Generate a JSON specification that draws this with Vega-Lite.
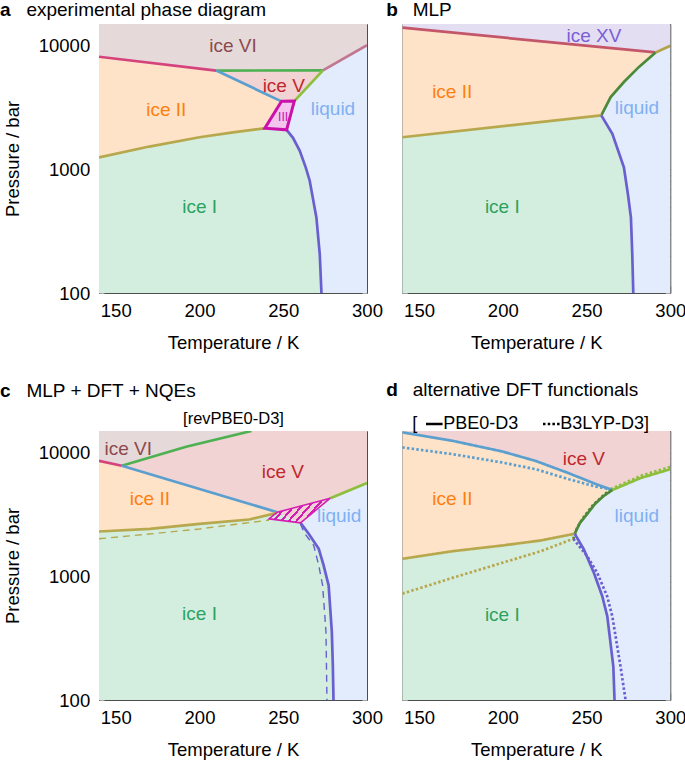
{
"$schema":"https://vega.github.io/schema/vega-lite/v6.json",
"padding":0,
"config":{
 "font":"Liberation Sans",
 "view":{"stroke":null},
 "axis":{"labelFont":"Liberation Sans","titleFont":"Liberation Sans","labelFontSize":18.5,"titleFontSize":18.5,"titleFontWeight":"normal","labelColor":"black","titleColor":"black","tickColor":"#a6a6a6","tickWidth":1,"domain":true,"domainColor":"#4d4d4d","domainWidth":1,"grid":false,"zindex":1},
 "title":{"fontSize":19,"subtitleFontSize":19,"font":"Liberation Sans","subtitleFont":"Liberation Sans","fontWeight":"bold","subtitleFontWeight":"normal","color":"black","subtitleColor":"black","anchor":"start","frame":"group","subtitlePadding":-19,"offset":4},
 "text":{"font":"Liberation Sans"}
},
"spacing":28,
"resolve":{"scale":{"strokeDash":"independent"},"legend":{"strokeDash":"independent"}},
"vconcat":[
{"spacing":3.3,"hconcat":[
{
"width":268,"height":269,
"title":{"text":"a","subtitle":"\u200b\u00a0\u00a0\u00a0\u00a0\u00a0experimental phase diagram","dx":-99},
"data":{"values":[
{"g":"r","id":"VI","i":0,"T":140,"P":15000},{"g":"r","id":"VI","i":1,"T":300,"P":15000},{"g":"r","id":"VI","i":2,"T":300,"P":10100},{"g":"r","id":"VI","i":3,"T":273.7,"P":6330},{"g":"r","id":"VI","i":4,"T":210,"P":6300},{"g":"r","id":"VI","i":5,"T":140,"P":8150},
{"g":"r","id":"V","i":0,"T":210,"P":6300},{"g":"r","id":"V","i":1,"T":273.7,"P":6330},{"g":"r","id":"V","i":2,"T":256.6,"P":3570},{"g":"r","id":"V","i":3,"T":248.9,"P":3550},
{"g":"r","id":"II","i":0,"T":140,"P":8150},{"g":"r","id":"II","i":1,"T":210,"P":6300},{"g":"r","id":"II","i":2,"T":248.9,"P":3550},{"g":"r","id":"II","i":3,"T":239,"P":2150},{"g":"r","id":"II","i":4,"T":220,"P":1990},{"g":"r","id":"II","i":5,"T":200,"P":1820},{"g":"r","id":"II","i":6,"T":170,"P":1530},{"g":"r","id":"II","i":7,"T":140,"P":1252},
{"g":"r","id":"III","i":0,"T":248.9,"P":3550},{"g":"r","id":"III","i":1,"T":256.6,"P":3570},{"g":"r","id":"III","i":2,"T":252,"P":2090},{"g":"r","id":"III","i":3,"T":239,"P":2150},
{"g":"r","id":"I","i":0,"T":140,"P":1252},{"g":"r","id":"I","i":1,"T":170,"P":1530},{"g":"r","id":"I","i":2,"T":200,"P":1820},{"g":"r","id":"I","i":3,"T":220,"P":1990},{"g":"r","id":"I","i":4,"T":239,"P":2150},{"g":"r","id":"I","i":5,"T":252,"P":2090},{"g":"r","id":"I","i":6,"T":255.8,"P":1800},{"g":"r","id":"I","i":7,"T":259.8,"P":1420},{"g":"r","id":"I","i":8,"T":263.4,"P":1038},{"g":"r","id":"I","i":9,"T":265.8,"P":810},{"g":"r","id":"I","i":10,"T":269.8,"P":407},{"g":"r","id":"I","i":11,"T":271.8,"P":205},{"g":"r","id":"I","i":12,"T":272.8,"P":100},{"g":"r","id":"I","i":13,"T":140,"P":100},
{"g":"r","id":"L","i":0,"T":300,"P":10100},{"g":"r","id":"L","i":1,"T":273.7,"P":6330},{"g":"r","id":"L","i":2,"T":256.6,"P":3570},{"g":"r","id":"L","i":3,"T":252,"P":2090},{"g":"r","id":"L","i":4,"T":255.8,"P":1800},{"g":"r","id":"L","i":5,"T":259.8,"P":1420},{"g":"r","id":"L","i":6,"T":263.4,"P":1038},{"g":"r","id":"L","i":7,"T":265.8,"P":810},{"g":"r","id":"L","i":8,"T":269.8,"P":407},{"g":"r","id":"L","i":9,"T":271.8,"P":205},{"g":"r","id":"L","i":10,"T":272.8,"P":100},{"g":"r","id":"L","i":11,"T":300,"P":100},
{"g":"l","id":"VI-II","i":0,"T":140,"P":8150},{"g":"l","id":"VI-II","i":1,"T":210,"P":6300},
{"g":"l","id":"V-VI","i":0,"T":210,"P":6300},{"g":"l","id":"V-VI","i":1,"T":273.7,"P":6330},
{"g":"l","id":"VI-L","i":0,"T":273.7,"P":6330},{"g":"l","id":"VI-L","i":1,"T":300,"P":10100},
{"g":"l","id":"II-V","i":0,"T":210,"P":6300},{"g":"l","id":"II-V","i":1,"T":248.9,"P":3550},
{"g":"l","id":"V-L","i":0,"T":256.6,"P":3570},{"g":"l","id":"V-L","i":1,"T":273.7,"P":6330},
{"g":"l","id":"I-II","i":0,"T":140,"P":1252},{"g":"l","id":"I-II","i":1,"T":170,"P":1530},{"g":"l","id":"I-II","i":2,"T":200,"P":1820},{"g":"l","id":"I-II","i":3,"T":220,"P":1990},{"g":"l","id":"I-II","i":4,"T":239,"P":2150},
{"g":"l","id":"I-L","i":0,"T":252,"P":2090},{"g":"l","id":"I-L","i":1,"T":255.8,"P":1800},{"g":"l","id":"I-L","i":2,"T":259.8,"P":1420},{"g":"l","id":"I-L","i":3,"T":263.4,"P":1038},{"g":"l","id":"I-L","i":4,"T":265.8,"P":810},{"g":"l","id":"I-L","i":5,"T":269.8,"P":407},{"g":"l","id":"I-L","i":6,"T":271.8,"P":205},{"g":"l","id":"I-L","i":7,"T":272.8,"P":100},
{"g":"o","id":"III","i":0,"T":248.9,"P":3550},{"g":"o","id":"III","i":1,"T":256.6,"P":3570},{"g":"o","id":"III","i":2,"T":252,"P":2090},{"g":"o","id":"III","i":3,"T":239,"P":2150},
{"g":"t","id":"VI","T":220,"P":9950,"text":"ice VI"},{"g":"t","id":"V","T":250.3,"P":4700,"text":"ice V"},{"g":"t","id":"II","T":180.2,"P":3040,"text":"ice II"},{"g":"t","id":"L","T":279.7,"P":3100,"text":"liquid"},{"g":"t","id":"I","T":200.1,"P":498,"text":"ice I"},
{"g":"t2","id":"III","T":249.9,"P":2650,"text":"III"}
]},
"encoding":{"x":{"field":"T","type":"quantitative","scale":{"domain":[140,300],"nice":false,"zero":false},"axis":null},"y":{"field":"P","type":"quantitative","scale":{"type":"log","domain":[100,15000],"nice":false},"axis":null}},
"layer":[
{"transform":[{"filter":"datum.g=='r'"}],"mark":{"type":"line","interpolate":"linear-closed","strokeWidth":0,"clip":true},
 "encoding":{
  "x":{"field":"T","type":"quantitative","scale":{"domain":[140,300],"nice":false,"zero":false},"axis":{"orient":"bottom","values":[150,200,250,300],"format":"d","tickSize":-7,"labelPadding":15.4,"labelFlush":false,"title":"Temperature / K","titlePadding":13.8}},
  "y":{"field":"P","type":"quantitative","scale":{"type":"log","domain":[100,15000],"nice":false},"axis":{"orient":"left","values":[100,200,300,400,500,600,700,800,900,1000,2000,3000,4000,5000,6000,7000,8000,9000,10000],"tickSize":-5,"labelPadding":14.3,"labelOverlap":false,"labelExpr":"(datum.value==100||datum.value==1000||datum.value==10000)?format(datum.value,'d'):''","title":"Pressure / bar","titlePadding":15.3}},
  "fill":{"field":"id","type":"nominal","scale":{"domain":["VI","V","II","I","L","III","XV"],"range":["#e6d9da","#f1d3d3","#fee3c8","#d3eedf","#e3ecfc","#f2c4ee","#e4def3"]},"legend":null},
  "order":{"field":"i","type":"quantitative"}}},
{"transform":[{"filter":"datum.g=='l'"}],"mark":{"type":"line","strokeWidth":2.7,"clip":true},
 "encoding":{
  "x":{"field":"T","type":"quantitative","scale":{"domain":[140,300],"nice":false,"zero":false},"axis":{"orient":"top","values":[150,200,250],"tickSize":-7,"labels":false,"title":null}},
  "y":{"field":"P","type":"quantitative","scale":{"type":"log","domain":[100,15000],"nice":false},"axis":{"orient":"right","values":[100,200,300,400,500,600,700,800,900,1000,2000,3000,4000,5000,6000,7000,8000,9000,10000],"tickSize":-5,"labels":false,"title":null}},
  "stroke":{"field":"id","type":"nominal","scale":{"domain":["VI-II","V-VI","VI-L","II-V","III","I-II","I-L","V-L","XV-II","XV-L","II-L"],"range":["#d5437c","#4db152","#c27790","#5a9fcf","#cc11aa","#b7a84e","#6a5fd0","#8dbf3d","#c4566a","#b4a348","#4c8a3b"]},"legend":null},
  "order":{"field":"i","type":"quantitative"}}},
{"transform":[{"filter":"datum.g=='o'"}],"mark":{"type":"line","interpolate":"linear-closed","strokeWidth":3,"clip":true},
 "encoding":{
  "stroke":{"field":"id","type":"nominal","scale":{"domain":["VI-II","V-VI","VI-L","II-V","III","I-II","I-L","V-L","XV-II","XV-L","II-L"],"range":["#d5437c","#4db152","#c27790","#5a9fcf","#cc11aa","#b7a84e","#6a5fd0","#8dbf3d","#c4566a","#b4a348","#4c8a3b"]},"legend":null},
  "order":{"field":"i","type":"quantitative"}}},
{"transform":[{"filter":"datum.g=='t'"}],"mark":{"type":"text","fontSize":19},
 "encoding":{"text":{"field":"text","type":"nominal"},"color":{"field":"id","type":"nominal","scale":{"domain":["VI","V","II","I","L","III","XV"],"range":["#8c4a4d","#c0272d","#ff7f0e","#2ca25f","#7fb0f4","#cc11aa","#7b5ed6"]},"legend":null}}},
{"transform":[{"filter":"datum.g=='t2'"}],"mark":{"type":"text","fontSize":12},
 "encoding":{"text":{"field":"text","type":"nominal"},"color":{"field":"id","type":"nominal","scale":{"domain":["VI","V","II","I","L","III","XV"],"range":["#8c4a4d","#c0272d","#ff7f0e","#2ca25f","#7fb0f4","#cc11aa","#7b5ed6"]},"legend":null}}}
],
"resolve":{"axis":{"x":"independent","y":"independent"}}
},
{
"width":268,"height":269,
"title":{"text":"b","subtitle":"\u200b\u00a0\u00a0\u00a0\u00a0\u00a0MLP","dx":-16},
"data":{"values":[
{"g":"r","id":"XV","i":0,"T":140,"P":15000},{"g":"r","id":"XV","i":1,"T":300,"P":15000},{"g":"r","id":"XV","i":2,"T":300,"P":10000},{"g":"r","id":"XV","i":3,"T":291.2,"P":8830},{"g":"r","id":"XV","i":4,"T":140,"P":14000},
{"g":"r","id":"II","i":0,"T":140,"P":14000},{"g":"r","id":"II","i":1,"T":291.2,"P":8830},{"g":"r","id":"II","i":2,"T":281.3,"P":6745},{"g":"r","id":"II","i":3,"T":272.3,"P":5090},{"g":"r","id":"II","i":4,"T":264.4,"P":3845},{"g":"r","id":"II","i":5,"T":258.8,"P":2735},{"g":"r","id":"II","i":6,"T":140,"P":1820},
{"g":"r","id":"I","i":0,"T":140,"P":1820},{"g":"r","id":"I","i":1,"T":258.8,"P":2735},{"g":"r","id":"I","i":2,"T":265.4,"P":1940},{"g":"r","id":"I","i":3,"T":272.3,"P":1038},{"g":"r","id":"I","i":4,"T":274.7,"P":630},{"g":"r","id":"I","i":5,"T":276.5,"P":407},{"g":"r","id":"I","i":6,"T":277.3,"P":205},{"g":"r","id":"I","i":7,"T":277.9,"P":100},{"g":"r","id":"I","i":8,"T":140,"P":100},
{"g":"r","id":"L","i":0,"T":300,"P":10000},{"g":"r","id":"L","i":1,"T":291.2,"P":8830},{"g":"r","id":"L","i":2,"T":281.3,"P":6745},{"g":"r","id":"L","i":3,"T":272.3,"P":5090},{"g":"r","id":"L","i":4,"T":264.4,"P":3845},{"g":"r","id":"L","i":5,"T":258.8,"P":2735},{"g":"r","id":"L","i":6,"T":265.4,"P":1940},{"g":"r","id":"L","i":7,"T":272.3,"P":1038},{"g":"r","id":"L","i":8,"T":274.7,"P":630},{"g":"r","id":"L","i":9,"T":276.5,"P":407},{"g":"r","id":"L","i":10,"T":277.3,"P":205},{"g":"r","id":"L","i":11,"T":277.9,"P":100},{"g":"r","id":"L","i":12,"T":300,"P":100},
{"g":"l","id":"XV-II","i":0,"T":140,"P":14000},{"g":"l","id":"XV-II","i":1,"T":291.2,"P":8830},
{"g":"l","id":"XV-L","i":0,"T":291.2,"P":8830},{"g":"l","id":"XV-L","i":1,"T":300,"P":10000},
{"g":"l","id":"II-L","i":0,"T":291.2,"P":8830},{"g":"l","id":"II-L","i":1,"T":281.3,"P":6745},{"g":"l","id":"II-L","i":2,"T":272.3,"P":5090},{"g":"l","id":"II-L","i":3,"T":264.4,"P":3845},{"g":"l","id":"II-L","i":4,"T":258.8,"P":2735},
{"g":"l","id":"I-II","i":0,"T":140,"P":1820},{"g":"l","id":"I-II","i":1,"T":258.8,"P":2735},
{"g":"l","id":"I-L","i":0,"T":258.8,"P":2735},{"g":"l","id":"I-L","i":1,"T":265.4,"P":1940},{"g":"l","id":"I-L","i":2,"T":272.3,"P":1038},{"g":"l","id":"I-L","i":3,"T":274.7,"P":630},{"g":"l","id":"I-L","i":4,"T":276.5,"P":407},{"g":"l","id":"I-L","i":5,"T":277.3,"P":205},{"g":"l","id":"I-L","i":6,"T":277.9,"P":100},
{"g":"t","id":"XV","T":254.4,"P":12000,"text":"ice XV"},{"g":"t","id":"II","T":169.8,"P":4230,"text":"ice II"},{"g":"t","id":"L","T":280.1,"P":3130,"text":"liquid"},{"g":"t","id":"I","T":199.7,"P":498,"text":"ice I"}
]},
"encoding":{"x":{"field":"T","type":"quantitative","scale":{"domain":[140,300],"nice":false,"zero":false},"axis":null},"y":{"field":"P","type":"quantitative","scale":{"type":"log","domain":[100,15000],"nice":false},"axis":null}},
"layer":[
{"transform":[{"filter":"datum.g=='r'"}],"mark":{"type":"line","interpolate":"linear-closed","strokeWidth":0,"clip":true},
 "encoding":{
  "x":{"field":"T","type":"quantitative","scale":{"domain":[140,300],"nice":false,"zero":false},"axis":{"orient":"bottom","values":[150,200,250,300],"format":"d","tickSize":-7,"labelPadding":15.4,"labelFlush":false,"title":"Temperature / K","titlePadding":13.8}},
  "y":{"field":"P","type":"quantitative","scale":{"type":"log","domain":[100,15000],"nice":false},"axis":{"orient":"left","values":[100,200,300,400,500,600,700,800,900,1000,2000,3000,4000,5000,6000,7000,8000,9000,10000],"tickSize":-5,"labels":false,"title":null}},
  "fill":{"field":"id","type":"nominal","scale":{"domain":["VI","V","II","I","L","III","XV"],"range":["#e6d9da","#f1d3d3","#fee3c8","#d3eedf","#e3ecfc","#f2c4ee","#e4def3"]},"legend":null},
  "order":{"field":"i","type":"quantitative"}}},
{"transform":[{"filter":"datum.g=='l'"}],"mark":{"type":"line","strokeWidth":2.7,"clip":true},
 "encoding":{
  "x":{"field":"T","type":"quantitative","scale":{"domain":[140,300],"nice":false,"zero":false},"axis":{"orient":"top","values":[150,200,250],"tickSize":-7,"labels":false,"title":null}},
  "y":{"field":"P","type":"quantitative","scale":{"type":"log","domain":[100,15000],"nice":false},"axis":{"orient":"right","values":[100,200,300,400,500,600,700,800,900,1000,2000,3000,4000,5000,6000,7000,8000,9000,10000],"tickSize":-5,"labels":false,"title":null}},
  "stroke":{"field":"id","type":"nominal","scale":{"domain":["VI-II","V-VI","VI-L","II-V","III","I-II","I-L","V-L","XV-II","XV-L","II-L"],"range":["#d5437c","#4db152","#c27790","#5a9fcf","#cc11aa","#b7a84e","#6a5fd0","#8dbf3d","#c4566a","#b4a348","#4c8a3b"]},"legend":null},
  "order":{"field":"i","type":"quantitative"}}},
{"transform":[{"filter":"datum.g=='t'"}],"mark":{"type":"text","fontSize":19},
 "encoding":{"text":{"field":"text","type":"nominal"},"color":{"field":"id","type":"nominal","scale":{"domain":["VI","V","II","I","L","III","XV"],"range":["#8c4a4d","#c0272d","#ff7f0e","#2ca25f","#7fb0f4","#cc11aa","#7b5ed6"]},"legend":null}}}
],
"resolve":{"axis":{"x":"independent","y":"independent"}}
}
]},
{"spacing":3.3,"resolve":{"scale":{"strokeDash":"independent"},"legend":{"strokeDash":"independent"}},"hconcat":[
{
"width":268,"height":269,
"title":{"text":"c","subtitle":"\u200b\u00a0\u00a0\u00a0\u00a0\u00a0MLP + DFT + NQEs","dx":-99,"offset":9},
"data":{"values":[
{"g":"r","id":"VI","i":0,"T":140,"P":15000},{"g":"r","id":"VI","i":1,"T":231,"P":15000},{"g":"r","id":"VI","i":2,"T":192,"P":11200},{"g":"r","id":"VI","i":3,"T":153.6,"P":7850},{"g":"r","id":"VI","i":4,"T":140,"P":8610},
{"g":"r","id":"V","i":0,"T":153.6,"P":7850},{"g":"r","id":"V","i":1,"T":192,"P":11200},{"g":"r","id":"V","i":2,"T":231,"P":15000},{"g":"r","id":"V","i":3,"T":300,"P":15000},{"g":"r","id":"V","i":4,"T":300,"P":5700},{"g":"r","id":"V","i":5,"T":278.1,"P":4290},{"g":"r","id":"V","i":6,"T":260.3,"P":2710},{"g":"r","id":"V","i":7,"T":241.5,"P":2920},{"g":"r","id":"V","i":8,"T":246.4,"P":3305},
{"g":"r","id":"II","i":0,"T":140,"P":8610},{"g":"r","id":"II","i":1,"T":153.6,"P":7850},{"g":"r","id":"II","i":2,"T":246.4,"P":3305},{"g":"r","id":"II","i":3,"T":246.4,"P":3265},{"g":"r","id":"II","i":4,"T":229.7,"P":2885},{"g":"r","id":"II","i":5,"T":200,"P":2660},{"g":"r","id":"II","i":6,"T":170.4,"P":2425},{"g":"r","id":"II","i":7,"T":140,"P":2307},
{"g":"r","id":"I","i":0,"T":140,"P":2307},{"g":"r","id":"I","i":1,"T":170.4,"P":2425},{"g":"r","id":"I","i":2,"T":200,"P":2660},{"g":"r","id":"I","i":3,"T":229.7,"P":2885},{"g":"r","id":"I","i":4,"T":246.4,"P":3265},{"g":"r","id":"I","i":5,"T":260.3,"P":2710},{"g":"r","id":"I","i":6,"T":265.2,"P":2210},{"g":"r","id":"I","i":7,"T":271.2,"P":1671},{"g":"r","id":"I","i":8,"T":274.1,"P":1228},{"g":"r","id":"I","i":9,"T":277.1,"P":845},{"g":"r","id":"I","i":10,"T":279,"P":357},{"g":"r","id":"I","i":11,"T":279.6,"P":191},{"g":"r","id":"I","i":12,"T":280,"P":100},{"g":"r","id":"I","i":13,"T":140,"P":100},
{"g":"r","id":"L","i":0,"T":300,"P":5700},{"g":"r","id":"L","i":1,"T":278.1,"P":4290},{"g":"r","id":"L","i":2,"T":260.3,"P":2710},{"g":"r","id":"L","i":3,"T":265.2,"P":2210},{"g":"r","id":"L","i":4,"T":271.2,"P":1671},{"g":"r","id":"L","i":5,"T":274.1,"P":1228},{"g":"r","id":"L","i":6,"T":277.1,"P":845},{"g":"r","id":"L","i":7,"T":279,"P":357},{"g":"r","id":"L","i":8,"T":279.6,"P":191},{"g":"r","id":"L","i":9,"T":280,"P":100},{"g":"r","id":"L","i":10,"T":300,"P":100},
{"g":"l","id":"VI-II","i":0,"T":140,"P":8610},{"g":"l","id":"VI-II","i":1,"T":153.6,"P":7850},
{"g":"l","id":"V-VI","i":0,"T":153.6,"P":7850},{"g":"l","id":"V-VI","i":1,"T":192,"P":11200},{"g":"l","id":"V-VI","i":2,"T":231,"P":15000},
{"g":"l","id":"II-V","i":0,"T":153.6,"P":7850},{"g":"l","id":"II-V","i":1,"T":246.4,"P":3305},
{"g":"l","id":"V-L","i":0,"T":278.1,"P":4290},{"g":"l","id":"V-L","i":1,"T":300,"P":5700},
{"g":"l","id":"I-II","i":0,"T":140,"P":2307},{"g":"l","id":"I-II","i":1,"T":170.4,"P":2425},{"g":"l","id":"I-II","i":2,"T":200,"P":2660},{"g":"l","id":"I-II","i":3,"T":229.7,"P":2885},{"g":"l","id":"I-II","i":4,"T":246.4,"P":3265},
{"g":"l","id":"I-L","i":0,"T":260.3,"P":2710},{"g":"l","id":"I-L","i":1,"T":265.2,"P":2210},{"g":"l","id":"I-L","i":2,"T":271.2,"P":1671},{"g":"l","id":"I-L","i":3,"T":274.1,"P":1228},{"g":"l","id":"I-L","i":4,"T":277.1,"P":845},{"g":"l","id":"I-L","i":5,"T":279,"P":357},{"g":"l","id":"I-L","i":6,"T":279.6,"P":191},{"g":"l","id":"I-L","i":7,"T":280,"P":100},
{"g":"dl","id":"I-II","i":0,"T":140,"P":2014},{"g":"dl","id":"I-II","i":1,"T":170,"P":2200},{"g":"dl","id":"I-II","i":2,"T":200,"P":2420},{"g":"dl","id":"I-II","i":3,"T":222,"P":2640},{"g":"dl","id":"I-II","i":4,"T":241.5,"P":2850},
{"g":"dl","id":"I-L","i":0,"T":260.3,"P":2660},{"g":"dl","id":"I-L","i":1,"T":262.5,"P":2250},{"g":"dl","id":"I-L","i":2,"T":268.2,"P":1778},{"g":"dl","id":"I-L","i":3,"T":271.2,"P":1228},{"g":"dl","id":"I-L","i":4,"T":273.5,"P":845},{"g":"dl","id":"I-L","i":5,"T":275.5,"P":357},{"g":"dl","id":"I-L","i":6,"T":276.1,"P":100},
{"g":"h","id":"III","i":0,"T":241.5,"P":2920},{"g":"h","id":"III","i":1,"T":246.4,"P":3305},{"g":"h","id":"III","i":2,"T":278.1,"P":4290},{"g":"h","id":"III","i":3,"T":260.3,"P":2710},
{"g":"t","id":"VI","T":157.5,"P":10700,"text":"ice VI"},{"g":"t","id":"V","T":249.8,"P":6950,"text":"ice V"},{"g":"t","id":"II","T":170.4,"P":4240,"text":"ice II"},{"g":"t","id":"L","T":283.4,"P":3100,"text":"liquid"},{"g":"t","id":"I","T":200,"P":500,"text":"ice I"}
]},
"encoding":{"x":{"field":"T","type":"quantitative","scale":{"domain":[140,300],"nice":false,"zero":false},"axis":null},"y":{"field":"P","type":"quantitative","scale":{"type":"log","domain":[100,15000],"nice":false},"axis":null}},
"layer":[
{"transform":[{"filter":"datum.g=='r'"}],"mark":{"type":"line","interpolate":"linear-closed","strokeWidth":0,"clip":true},
 "encoding":{
  "x":{"field":"T","type":"quantitative","scale":{"domain":[140,300],"nice":false,"zero":false},"axis":{"orient":"bottom","values":[150,200,250,300],"format":"d","tickSize":-7,"labelPadding":15.4,"labelFlush":false,"title":"Temperature / K","titlePadding":13.8}},
  "y":{"field":"P","type":"quantitative","scale":{"type":"log","domain":[100,15000],"nice":false},"axis":{"orient":"left","values":[100,200,300,400,500,600,700,800,900,1000,2000,3000,4000,5000,6000,7000,8000,9000,10000],"tickSize":-5,"labelPadding":14.3,"labelOverlap":false,"labelExpr":"(datum.value==100||datum.value==1000||datum.value==10000)?format(datum.value,'d'):''","title":"Pressure / bar","titlePadding":15.3}},
  "fill":{"field":"id","type":"nominal","scale":{"domain":["VI","V","II","I","L","III","XV"],"range":["#e6d9da","#f1d3d3","#fee3c8","#d3eedf","#e3ecfc","#f2c4ee","#e4def3"]},"legend":null},
  "order":{"field":"i","type":"quantitative"}}},
{"transform":[{"filter":"datum.g=='dl'"}],"mark":{"type":"line","strokeWidth":1.4,"strokeDash":[7,5],"clip":true},
 "encoding":{
  "stroke":{"field":"id","type":"nominal","scale":{"domain":["VI-II","V-VI","VI-L","II-V","III","I-II","I-L","V-L","XV-II","XV-L","II-L"],"range":["#d5437c","#4db152","#c27790","#5a9fcf","#cc11aa","#b7a84e","#6a5fd0","#8dbf3d","#c4566a","#b4a348","#4c8a3b"]},"legend":null},
  "order":{"field":"i","type":"quantitative"}}},
{"transform":[{"filter":"datum.g=='l'"}],"mark":{"type":"line","strokeWidth":2.7,"clip":true},
 "encoding":{
  "x":{"field":"T","type":"quantitative","scale":{"domain":[140,300],"nice":false,"zero":false},"axis":{"orient":"top","values":[150,200,250],"tickSize":-7,"labels":false,"title":"[revPBE0-D3]","titleFontSize":16.5,"titlePadding":4.5}},
  "y":{"field":"P","type":"quantitative","scale":{"type":"log","domain":[100,15000],"nice":false},"axis":{"orient":"right","values":[100,200,300,400,500,600,700,800,900,1000,2000,3000,4000,5000,6000,7000,8000,9000,10000],"tickSize":-5,"labels":false,"title":null}},
  "stroke":{"field":"id","type":"nominal","scale":{"domain":["VI-II","V-VI","VI-L","II-V","III","I-II","I-L","V-L","XV-II","XV-L","II-L"],"range":["#d5437c","#4db152","#c27790","#5a9fcf","#cc11aa","#b7a84e","#6a5fd0","#8dbf3d","#c4566a","#b4a348","#4c8a3b"]},"legend":null},
  "order":{"field":"i","type":"quantitative"}}},
{"transform":[{"filter":"datum.g=='h'"}],"mark":{"type":"line","interpolate":"linear-closed","stroke":"#d41db5","strokeWidth":1.5,"clip":true,
  "fill":{"gradient":"linear","x1":0,"y1":0,"x2":1,"y2":0.35,"stops":[
   {"offset":0,"color":"#d41db5"},{"offset":0.04,"color":"#d41db5"},{"offset":0.04,"color":"rgba(212,29,181,0)"},{"offset":0.111,"color":"rgba(212,29,181,0)"},
   {"offset":0.111,"color":"#d41db5"},{"offset":0.151,"color":"#d41db5"},{"offset":0.151,"color":"rgba(212,29,181,0)"},{"offset":0.222,"color":"rgba(212,29,181,0)"},
   {"offset":0.222,"color":"#d41db5"},{"offset":0.262,"color":"#d41db5"},{"offset":0.262,"color":"rgba(212,29,181,0)"},{"offset":0.333,"color":"rgba(212,29,181,0)"},
   {"offset":0.333,"color":"#d41db5"},{"offset":0.373,"color":"#d41db5"},{"offset":0.373,"color":"rgba(212,29,181,0)"},{"offset":0.444,"color":"rgba(212,29,181,0)"},
   {"offset":0.444,"color":"#d41db5"},{"offset":0.484,"color":"#d41db5"},{"offset":0.484,"color":"rgba(212,29,181,0)"},{"offset":0.556,"color":"rgba(212,29,181,0)"},
   {"offset":0.556,"color":"#d41db5"},{"offset":0.596,"color":"#d41db5"},{"offset":0.596,"color":"rgba(212,29,181,0)"},{"offset":0.667,"color":"rgba(212,29,181,0)"},
   {"offset":0.667,"color":"#d41db5"},{"offset":0.707,"color":"#d41db5"},{"offset":0.707,"color":"rgba(212,29,181,0)"},{"offset":0.778,"color":"rgba(212,29,181,0)"},
   {"offset":0.778,"color":"#d41db5"},{"offset":0.818,"color":"#d41db5"},{"offset":0.818,"color":"rgba(212,29,181,0)"},{"offset":0.889,"color":"rgba(212,29,181,0)"},
   {"offset":0.889,"color":"#d41db5"},{"offset":0.929,"color":"#d41db5"},{"offset":0.929,"color":"rgba(212,29,181,0)"},{"offset":1,"color":"rgba(212,29,181,0)"}]}},
 "encoding":{"order":{"field":"i","type":"quantitative"}}},
{"transform":[{"filter":"datum.g=='t'"}],"mark":{"type":"text","fontSize":19},
 "encoding":{"text":{"field":"text","type":"nominal"},"color":{"field":"id","type":"nominal","scale":{"domain":["VI","V","II","I","L","III","XV"],"range":["#8c4a4d","#c0272d","#ff7f0e","#2ca25f","#7fb0f4","#cc11aa","#7b5ed6"]},"legend":null}}}
],
"resolve":{"axis":{"x":"independent","y":"independent"}}
},
{
"width":268,"height":269,
"title":{"text":"d","subtitle":"\u200b\u00a0\u00a0\u00a0\u00a0\u00a0alternative DFT functionals","dx":-16,"offset":14},
"data":{"values":[
{"g":"r","id":"V","i":0,"T":140,"P":15000},{"g":"r","id":"V","i":1,"T":300,"P":15000},{"g":"r","id":"V","i":2,"T":300,"P":7360},{"g":"r","id":"V","i":3,"T":282.3,"P":6250},{"g":"r","id":"V","i":4,"T":265.4,"P":5000},{"g":"r","id":"V","i":5,"T":255.4,"P":5590},{"g":"r","id":"V","i":6,"T":239.5,"P":6825},{"g":"r","id":"V","i":7,"T":219.6,"P":8590},{"g":"r","id":"V","i":8,"T":199.7,"P":10240},{"g":"r","id":"V","i":9,"T":169.9,"P":12500},{"g":"r","id":"V","i":10,"T":140,"P":14620},
{"g":"r","id":"II","i":0,"T":140,"P":14620},{"g":"r","id":"II","i":1,"T":169.9,"P":12500},{"g":"r","id":"II","i":2,"T":199.7,"P":10240},{"g":"r","id":"II","i":3,"T":219.6,"P":8590},{"g":"r","id":"II","i":4,"T":239.5,"P":6825},{"g":"r","id":"II","i":5,"T":255.4,"P":5590},{"g":"r","id":"II","i":6,"T":265.4,"P":5000},{"g":"r","id":"II","i":7,"T":260,"P":4450},{"g":"r","id":"II","i":8,"T":255,"P":3850},{"g":"r","id":"II","i":9,"T":250,"P":3150},{"g":"r","id":"II","i":10,"T":246,"P":2700},{"g":"r","id":"II","i":11,"T":242.9,"P":2213},{"g":"r","id":"II","i":12,"T":222.6,"P":1952},{"g":"r","id":"II","i":13,"T":199.7,"P":1778},{"g":"r","id":"II","i":14,"T":169.9,"P":1598},{"g":"r","id":"II","i":15,"T":140,"P":1387},
{"g":"r","id":"I","i":0,"T":140,"P":1387},{"g":"r","id":"I","i":1,"T":169.9,"P":1598},{"g":"r","id":"I","i":2,"T":199.7,"P":1778},{"g":"r","id":"I","i":3,"T":222.6,"P":1952},{"g":"r","id":"I","i":4,"T":242.9,"P":2213},{"g":"r","id":"I","i":5,"T":248.4,"P":1652},{"g":"r","id":"I","i":6,"T":254.4,"P":1067},{"g":"r","id":"I","i":7,"T":259.4,"P":690},{"g":"r","id":"I","i":8,"T":262.4,"P":474},{"g":"r","id":"I","i":9,"T":266,"P":186},{"g":"r","id":"I","i":10,"T":266.7,"P":100},{"g":"r","id":"I","i":11,"T":140,"P":100},
{"g":"r","id":"L","i":0,"T":300,"P":7360},{"g":"r","id":"L","i":1,"T":282.3,"P":6250},{"g":"r","id":"L","i":2,"T":265.4,"P":5000},{"g":"r","id":"L","i":3,"T":260,"P":4450},{"g":"r","id":"L","i":4,"T":255,"P":3850},{"g":"r","id":"L","i":5,"T":250,"P":3150},{"g":"r","id":"L","i":6,"T":246,"P":2700},{"g":"r","id":"L","i":7,"T":242.9,"P":2213},{"g":"r","id":"L","i":8,"T":248.4,"P":1652},{"g":"r","id":"L","i":9,"T":254.4,"P":1067},{"g":"r","id":"L","i":10,"T":259.4,"P":690},{"g":"r","id":"L","i":11,"T":262.4,"P":474},{"g":"r","id":"L","i":12,"T":266,"P":186},{"g":"r","id":"L","i":13,"T":266.7,"P":100},{"g":"r","id":"L","i":14,"T":300,"P":100},
{"g":"l","f":"B3LYP-D3","id":"II-V","i":0,"T":140,"P":11040},{"g":"l","f":"B3LYP-D3","id":"II-V","i":1,"T":169.9,"P":9750},{"g":"l","f":"B3LYP-D3","id":"II-V","i":2,"T":199.7,"P":8340},{"g":"l","f":"B3LYP-D3","id":"II-V","i":3,"T":219.6,"P":7360},{"g":"l","f":"B3LYP-D3","id":"II-V","i":4,"T":239.5,"P":6105},{"g":"l","f":"B3LYP-D3","id":"II-V","i":5,"T":255.4,"P":5325},{"g":"l","f":"B3LYP-D3","id":"II-V","i":6,"T":264.4,"P":5070},
{"g":"l","f":"B3LYP-D3","id":"V-L","i":0,"T":264.4,"P":5070},{"g":"l","f":"B3LYP-D3","id":"V-L","i":1,"T":282.3,"P":6500},{"g":"l","f":"B3LYP-D3","id":"V-L","i":2,"T":300,"P":7690},
{"g":"l","f":"B3LYP-D3","id":"II-L","i":0,"T":242,"P":2000},{"g":"l","f":"B3LYP-D3","id":"II-L","i":1,"T":244.5,"P":2500},{"g":"l","f":"B3LYP-D3","id":"II-L","i":2,"T":248.5,"P":3050},{"g":"l","f":"B3LYP-D3","id":"II-L","i":3,"T":254,"P":3800},{"g":"l","f":"B3LYP-D3","id":"II-L","i":4,"T":259.5,"P":4450},{"g":"l","f":"B3LYP-D3","id":"II-L","i":5,"T":264.4,"P":5070},
{"g":"l","f":"B3LYP-D3","id":"I-II","i":0,"T":140,"P":725},{"g":"l","f":"B3LYP-D3","id":"I-II","i":1,"T":169.9,"P":972},{"g":"l","f":"B3LYP-D3","id":"I-II","i":2,"T":199.7,"P":1288},{"g":"l","f":"B3LYP-D3","id":"I-II","i":3,"T":222.6,"P":1598},{"g":"l","f":"B3LYP-D3","id":"I-II","i":4,"T":242.1,"P":2014},
{"g":"l","f":"B3LYP-D3","id":"I-L","i":0,"T":242.1,"P":2014},{"g":"l","f":"B3LYP-D3","id":"I-L","i":1,"T":250.4,"P":1456},{"g":"l","f":"B3LYP-D3","id":"I-L","i":2,"T":256.4,"P":1067},{"g":"l","f":"B3LYP-D3","id":"I-L","i":3,"T":262.3,"P":690},{"g":"l","f":"B3LYP-D3","id":"I-L","i":4,"T":265.4,"P":474},{"g":"l","f":"B3LYP-D3","id":"I-L","i":5,"T":270.3,"P":186},{"g":"l","f":"B3LYP-D3","id":"I-L","i":6,"T":273.3,"P":100},
{"g":"l","f":"PBE0-D3","id":"II-V","i":0,"T":140,"P":14620},{"g":"l","f":"PBE0-D3","id":"II-V","i":1,"T":169.9,"P":12500},{"g":"l","f":"PBE0-D3","id":"II-V","i":2,"T":199.7,"P":10240},{"g":"l","f":"PBE0-D3","id":"II-V","i":3,"T":219.6,"P":8590},{"g":"l","f":"PBE0-D3","id":"II-V","i":4,"T":239.5,"P":6825},{"g":"l","f":"PBE0-D3","id":"II-V","i":5,"T":255.4,"P":5590},{"g":"l","f":"PBE0-D3","id":"II-V","i":6,"T":265.4,"P":5000},
{"g":"l","f":"PBE0-D3","id":"V-L","i":0,"T":265.4,"P":5000},{"g":"l","f":"PBE0-D3","id":"V-L","i":1,"T":282.3,"P":6250},{"g":"l","f":"PBE0-D3","id":"V-L","i":2,"T":300,"P":7360},
{"g":"l","f":"PBE0-D3","id":"II-L","i":0,"T":242.9,"P":2213},{"g":"l","f":"PBE0-D3","id":"II-L","i":1,"T":246,"P":2700},{"g":"l","f":"PBE0-D3","id":"II-L","i":2,"T":250,"P":3150},{"g":"l","f":"PBE0-D3","id":"II-L","i":3,"T":255,"P":3850},{"g":"l","f":"PBE0-D3","id":"II-L","i":4,"T":260,"P":4450},{"g":"l","f":"PBE0-D3","id":"II-L","i":5,"T":265.4,"P":5000},
{"g":"l","f":"PBE0-D3","id":"I-II","i":0,"T":140,"P":1387},{"g":"l","f":"PBE0-D3","id":"I-II","i":1,"T":169.9,"P":1598},{"g":"l","f":"PBE0-D3","id":"I-II","i":2,"T":199.7,"P":1778},{"g":"l","f":"PBE0-D3","id":"I-II","i":3,"T":222.6,"P":1952},{"g":"l","f":"PBE0-D3","id":"I-II","i":4,"T":242.9,"P":2213},
{"g":"l","f":"PBE0-D3","id":"I-L","i":0,"T":242.9,"P":2213},{"g":"l","f":"PBE0-D3","id":"I-L","i":1,"T":248.4,"P":1652},{"g":"l","f":"PBE0-D3","id":"I-L","i":2,"T":254.4,"P":1067},{"g":"l","f":"PBE0-D3","id":"I-L","i":3,"T":259.4,"P":690},{"g":"l","f":"PBE0-D3","id":"I-L","i":4,"T":262.4,"P":474},{"g":"l","f":"PBE0-D3","id":"I-L","i":5,"T":266,"P":186},{"g":"l","f":"PBE0-D3","id":"I-L","i":6,"T":266.7,"P":100},
{"g":"t","id":"V","T":248.4,"P":8870,"text":"ice V"},{"g":"t","id":"II","T":169.9,"P":4200,"text":"ice II"},{"g":"t","id":"L","T":280,"P":3080,"text":"liquid"},{"g":"t","id":"I","T":199.7,"P":490,"text":"ice I"}
]},
"encoding":{"x":{"field":"T","type":"quantitative","scale":{"domain":[140,300],"nice":false,"zero":false},"axis":null},"y":{"field":"P","type":"quantitative","scale":{"type":"log","domain":[100,15000],"nice":false},"axis":null}},
"layer":[
{"transform":[{"filter":"datum.g=='r'"}],"mark":{"type":"line","interpolate":"linear-closed","strokeWidth":0,"clip":true},
 "encoding":{
  "x":{"field":"T","type":"quantitative","scale":{"domain":[140,300],"nice":false,"zero":false},"axis":{"orient":"bottom","values":[150,200,250,300],"format":"d","tickSize":-7,"labelPadding":15.4,"labelFlush":false,"title":"Temperature / K","titlePadding":13.8}},
  "y":{"field":"P","type":"quantitative","scale":{"type":"log","domain":[100,15000],"nice":false},"axis":{"orient":"left","values":[100,200,300,400,500,600,700,800,900,1000,2000,3000,4000,5000,6000,7000,8000,9000,10000],"tickSize":-5,"labels":false,"title":null}},
  "fill":{"field":"id","type":"nominal","scale":{"domain":["VI","V","II","I","L","III","XV"],"range":["#e6d9da","#f1d3d3","#fee3c8","#d3eedf","#e3ecfc","#f2c4ee","#e4def3"]},"legend":null},
  "order":{"field":"i","type":"quantitative"}}},
{"transform":[{"filter":"datum.g=='l'"}],"mark":{"type":"line","strokeWidth":2.7,"clip":true},
 "encoding":{
  "x":{"field":"T","type":"quantitative","scale":{"domain":[140,300],"nice":false,"zero":false},"axis":{"orient":"top","values":[150,200,250],"tickSize":-7,"labels":false,"title":null}},
  "y":{"field":"P","type":"quantitative","scale":{"type":"log","domain":[100,15000],"nice":false},"axis":{"orient":"right","values":[100,200,300,400,500,600,700,800,900,1000,2000,3000,4000,5000,6000,7000,8000,9000,10000],"tickSize":-5,"labels":false,"title":null}},
  "stroke":{"field":"id","type":"nominal","scale":{"domain":["VI-II","V-VI","VI-L","II-V","III","I-II","I-L","V-L","XV-II","XV-L","II-L"],"range":["#d5437c","#4db152","#c27790","#5a9fcf","#cc11aa","#b7a84e","#6a5fd0","#8dbf3d","#c4566a","#b4a348","#4c8a3b"]},"legend":null},
  "strokeDash":{"field":"f","type":"nominal","scale":{"domain":["PBE0-D3","B3LYP-D3"],"range":[[1,0],[2.5,2.2]]},
   "legend":{"orient":"top","direction":"horizontal","title":"\u200b\u00a0\u00a0[","titleOrient":"left","titleFontSize":18,"titleFontWeight":"normal","titleColor":"black","titleFont":"Liberation Sans","titlePadding":6,"labelFontSize":18,"labelColor":"black","labelFont":"Liberation Sans","labelOffset":-1,"labelLimit":300,"symbolType":"stroke","symbolStrokeColor":"black","symbolStrokeWidth":2.5,"symbolSize":275,"columnPadding":18,"offset":-3,"padding":0,"labelExpr":"datum.label == 'B3LYP-D3' ? 'B3LYP-D3]' : datum.label"}},
  "order":{"field":"i","type":"quantitative"}}},
{"transform":[{"filter":"datum.g=='t'"}],"mark":{"type":"text","fontSize":19},
 "encoding":{"text":{"field":"text","type":"nominal"},"color":{"field":"id","type":"nominal","scale":{"domain":["VI","V","II","I","L","III","XV"],"range":["#8c4a4d","#c0272d","#ff7f0e","#2ca25f","#7fb0f4","#cc11aa","#7b5ed6"]},"legend":null}}}
],
"resolve":{"axis":{"x":"independent","y":"independent"}}
}
]}
]
}
